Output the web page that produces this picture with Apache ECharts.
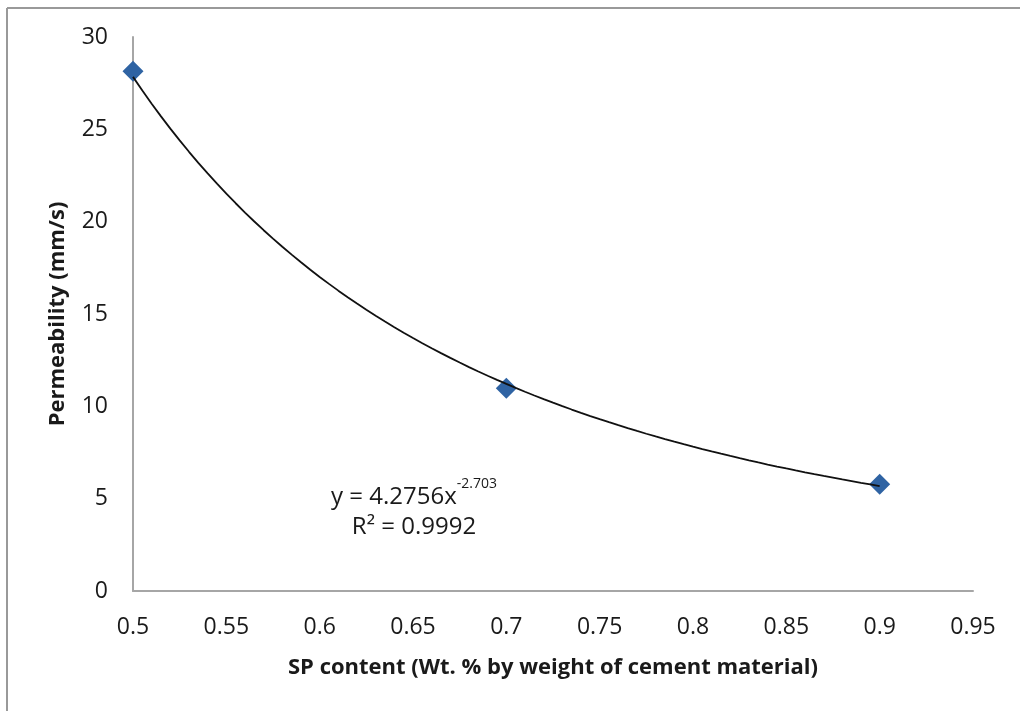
<!DOCTYPE html>
<html>
<head>
<meta charset="utf-8">
<script src="https://cdn.jsdelivr.net/npm/echarts@6/dist/echarts.min.js"></script>
<style>
  html, body { margin: 0; padding: 0; background: #fff; }
  #chart { width: 1020px; height: 711px; }
</style>
</head>
<body>
<div id="chart"></div>
<script>
// Measured permeability against superplasticizer dosage
const spContent = [0.5, 0.7, 0.9];
const permeability = [28.15, 10.98, 5.78];

// Power-law trend line y = a * x^b, as printed on the chart
const trendA = 4.2756;
const trendB = -2.703;
const trendR2 = 0.9992;

const xTicks = { min: 0.5, max: 0.95, step: 0.05 };
const yTicks = { min: 0, max: 30, step: 5 };

// Sample the fitted curve across the measured range
const trendData = [];
for (let i = 0; i <= 80; i++) {
  const x = spContent[0] + (spContent[spContent.length - 1] - spContent[0]) * i / 80;
  trendData.push([x, trendA * Math.pow(x, trendB)]);
}

const FONT = 'Open Sans';
const chart = echarts.init(document.getElementById('chart'), null, { renderer: 'canvas' });

chart.setOption({
  animation: false,
  backgroundColor: '#ffffff',
  grid: { left: 133, right: 47, top: 37, bottom: 120, containLabel: false },
  xAxis: {
    type: 'value',
    min: xTicks.min, max: xTicks.max, interval: xTicks.step,
    name: 'SP content (Wt. % by weight of cement material)',
    nameLocation: 'middle', nameGap: 66,
    nameTextStyle: { fontFamily: FONT, fontWeight: 'bold', fontSize: 22, color: '#1a1a1a' },
    axisLine: { show: true, lineStyle: { color: '#a6a6a6', width: 2 } },
    axisTick: { show: false },
    splitLine: { show: false },
    axisLabel: {
      margin: 25, fontFamily: FONT, fontSize: 23, color: '#1a1a1a',
      formatter: v => String(+v.toFixed(2))
    }
  },
  yAxis: {
    type: 'value',
    min: yTicks.min, max: yTicks.max, interval: yTicks.step,
    name: 'Permeability (mm/s)',
    nameLocation: 'middle', nameGap: 64, nameRotate: 90,
    nameTextStyle: { fontFamily: FONT, fontWeight: 'bold', fontSize: 22, color: '#1a1a1a' },
    axisLine: { show: true, lineStyle: { color: '#a6a6a6', width: 2 } },
    axisTick: { show: false },
    splitLine: { show: false },
    axisLabel: { margin: 25, fontFamily: FONT, fontSize: 23, color: '#1a1a1a' }
  },
  series: [
    {
      name: 'Trend',
      type: 'line',
      data: trendData,
      showSymbol: false,
      symbol: 'none',
      smooth: false,
      lineStyle: { color: '#111', width: 1.8 },
      z: 3
    },
    {
      name: 'Permeability',
      type: 'scatter',
      data: spContent.map((x, i) => [x, permeability[i]]),
      symbol: 'diamond',
      symbolSize: 21,
      itemStyle: { color: '#2F63A3', opacity: 1 },
      z: 2
    }
  ],
  graphic: [
    // frame lines along the top and left edges
    { type: 'line', shape: { x1: 7, y1: 8, x2: 1020, y2: 8 }, style: { stroke: '#999', lineWidth: 2 }, silent: true },
    { type: 'line', shape: { x1: 7, y1: 8, x2: 7, y2: 711 }, style: { stroke: '#999', lineWidth: 2 }, silent: true },
    {
      type: 'text', left: 331, top: 477, silent: true,
      style: {
        text: '{m|y = ' + trendA + 'x}{s|' + trendB + '}',
        rich: {
          m: { fontFamily: FONT, fontSize: 24, fill: '#1a1a1a', verticalAlign: 'bottom', lineHeight: 32 },
          s: { fontFamily: FONT, fontSize: 14, fill: '#1a1a1a', verticalAlign: 'top', lineHeight: 32, padding: [0, 0, 14, 0] }
        }
      }
    },
    {
      type: 'text', x: 414, y: 527, silent: true,
      style: {
        text: 'R\u00B2 = ' + trendR2,
        fontFamily: FONT, fontSize: 24, fill: '#1a1a1a',
        align: 'center', verticalAlign: 'middle'
      }
    }
  ]
});
</script>
</body>
</html>
